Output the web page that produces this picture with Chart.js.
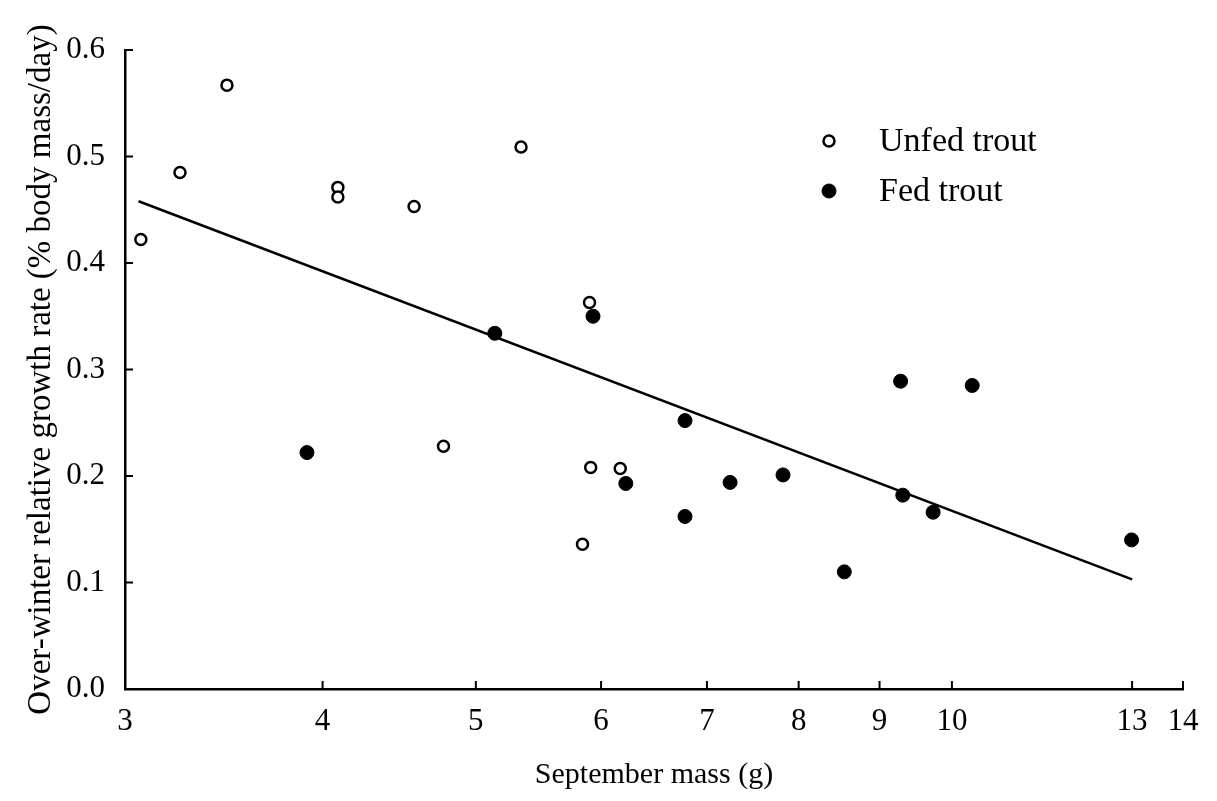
<!DOCTYPE html>
<html>
<head>
<meta charset="utf-8">
<script src="https://cdn.jsdelivr.net/npm/chart.js@4.4.0/dist/chart.umd.min.js"></script>
<style>
  html, body { margin: 0; padding: 0; background: #fff; }
  #wrap { width: 1217px; height: 801px; }
</style>
</head>
<body>
<div id="wrap"><canvas id="chart" width="1217" height="801"></canvas></div>
<script>
// September mass (g) and over-winter growth rate
const unfedMass = [3.07, 3.25, 3.48, 4.09, 4.09, 4.57, 5.34, 5.90, 4.77, 5.91, 6.17, 5.84];
const unfedRate = [0.422, 0.485, 0.567, 0.471, 0.462, 0.453, 0.509, 0.363, 0.228, 0.208, 0.207, 0.136];
const fedMass = [3.91, 5.14, 5.93, 6.78, 6.22, 6.78, 7.24, 7.82, 8.55, 9.28, 9.31, 9.73, 10.30, 12.99];
const fedRate = [0.222, 0.334, 0.350, 0.252, 0.193, 0.162, 0.194, 0.201, 0.110, 0.289, 0.182, 0.166, 0.285, 0.140];
const fitMass = [3.06, 13.0];
const fitRate = [0.458, 0.103];
const xTicks = [3, 4, 5, 6, 7, 8, 9, 10, 13, 14];
const yTicks = [0, 0.1, 0.2, 0.3, 0.4, 0.5, 0.6];

const toPoints = (xs, ys) => xs.map((x, i) => ({ x: x, y: ys[i] }));
const serif = 'Liberation Serif, Times New Roman, serif';

// inward tick marks + legend in the upper right
const extras = {
  id: 'extras',
  afterDraw(chart) {
    const ctx = chart.ctx;
    const xs = chart.scales.x, ys = chart.scales.y;
    ctx.save();
    ctx.strokeStyle = '#000';
    ctx.lineWidth = 2;
    ctx.beginPath();
    xTicks.forEach(v => {
      const px = xs.getPixelForValue(v);
      ctx.moveTo(px, xs.top);
      ctx.lineTo(px, xs.top - 8);
    });
    yTicks.forEach(v => {
      const py = ys.getPixelForValue(v);
      ctx.moveTo(ys.right, py);
      ctx.lineTo(ys.right + 8, py);
    });
    ctx.stroke();

    // legend
    const items = chart.data.datasets.filter(d => d.type === 'scatter');
    ctx.font = '34px ' + serif;
    ctx.textBaseline = 'middle';
    items.forEach((d, i) => {
      const cy = 141 + i * 50;
      ctx.beginPath();
      ctx.arc(829, cy, d.pointRadius, 0, Math.PI * 2);
      ctx.fillStyle = d.backgroundColor;
      ctx.fill();
      ctx.lineWidth = d.borderWidth;
      ctx.strokeStyle = '#000';
      ctx.stroke();
      ctx.fillStyle = '#000';
      ctx.fillText(d.label, 879, cy + 1);
    });
    ctx.restore();
  }
};

new Chart(document.getElementById('chart'), {
  data: {
    datasets: [
      {
        type: 'line',
        label: 'fit',
        data: toPoints(fitMass, fitRate),
        borderColor: '#000',
        borderWidth: 2.5,
        pointRadius: 0,
        fill: false
      },
      {
        type: 'scatter',
        label: 'Unfed trout',
        data: toPoints(unfedMass, unfedRate),
        backgroundColor: '#fff',
        borderColor: '#000',
        borderWidth: 2.5,
        pointRadius: 5.5
      },
      {
        type: 'scatter',
        label: 'Fed trout',
        data: toPoints(fedMass, fedRate),
        backgroundColor: '#000',
        borderColor: '#000',
        borderWidth: 1,
        pointRadius: 7
      }
    ]
  },
  options: {
    responsive: false,
    animation: false,
    layout: { padding: { top: 50, right: 34, left: 0, bottom: 0 } },
    plugins: {
      legend: { display: false },
      tooltip: { enabled: false }
    },
    scales: {
      x: {
        type: 'logarithmic',
        min: 3,
        max: 14,
        afterBuildTicks: s => { s.ticks = xTicks.map(v => ({ value: v })); },
        afterFit: s => { s.height = 112; },
        grid: { display: false },
        border: { display: true, color: '#000', width: 2.5 },
        ticks: {
          autoSkip: false,
          maxRotation: 0,
          padding: 6,
          color: '#000',
          font: { family: serif, size: 31 },
          callback: v => String(v)
        },
        title: {
          display: true,
          text: 'September mass (g)',
          color: '#000',
          font: { family: serif, size: 30 },
          padding: { top: 0, bottom: 8 }
        }
      },
      y: {
        min: 0,
        max: 0.6,
        afterBuildTicks: s => { s.ticks = yTicks.map(v => ({ value: v })); },
        afterFit: s => { s.width = 125; },
        grid: { display: false },
        border: { display: true, color: '#000', width: 2.5 },
        ticks: {
          padding: 12,
          color: '#000',
          font: { family: serif, size: 31 },
          callback: v => Number(v).toFixed(1)
        },
        title: {
          display: true,
          text: 'Over-winter relative growth rate (% body mass/day)',
          color: '#000',
          font: { family: serif, size: 33 },
          padding: { top: 22, bottom: 0 }
        }
      }
    }
  },
  plugins: [extras]
});
</script>
</body>
</html>
